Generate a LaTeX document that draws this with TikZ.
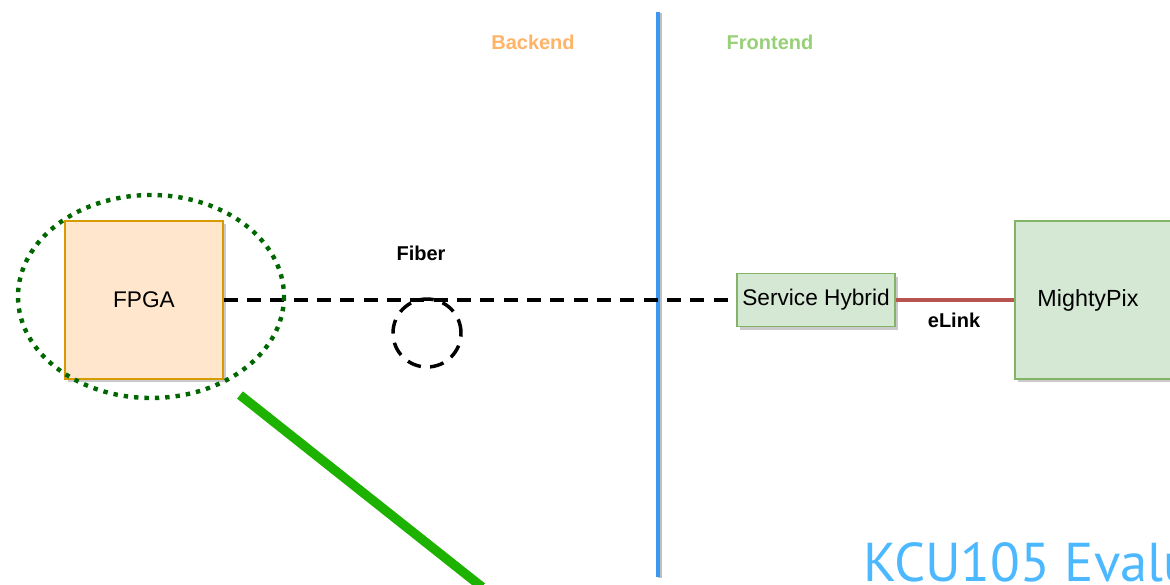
\documentclass[tikz,border=0pt]{standalone}
\usepackage{fontspec}
\setmainfont{Liberation Sans}
\newfontfamily\kcufont{PT Sans}
\usetikzlibrary{shadows}
\definecolor{fpgafill}{HTML}{FFE6CC}
\definecolor{fpgadraw}{HTML}{D79B00}
\definecolor{gfill}{HTML}{D5E8D4}
\definecolor{gdraw}{HTML}{82B366}
\definecolor{elink}{HTML}{B85450}
\definecolor{bluel}{HTML}{3D96F0}
\definecolor{backc}{HTML}{FFB366}
\definecolor{frontc}{HTML}{97D077}
\definecolor{ellc}{HTML}{006600}
\definecolor{penc}{HTML}{1DB100}
\definecolor{kcuc}{HTML}{4CB8FF}
\tikzset{
  box/.style={draw, line width=1.2pt, inner sep=0pt, font=\fontsize{17}{20}\selectfont,
    drop shadow={shadow xshift=2.5pt, shadow yshift=-2.5pt, fill=black!35, opacity=0.6}},
  lbl/.style={font=\bfseries\fontsize{15}{18}\selectfont, inner sep=0pt},
  fiberline/.style={line width=2.6pt, dash pattern=on 10.5pt off 7pt},
}
\begin{document}
\begin{tikzpicture}[x=0.75pt,y=-0.75pt]
\useasboundingbox (0,0) rectangle (1170,585);
\clip (0,0) rectangle (1170,585);
% divider
\draw[line width=3.5pt, black!25] (660,13) -- (660,578);
\draw[line width=3pt, bluel] (658,12) -- (658,577);
% labels
\node[lbl, text=backc] (back) at (533,42) {Backend};
\node[lbl, text=frontc] (front) at (770,42) {Frontend};
\node[lbl] (fiber) at (421,253) {Fiber};
% boxes
\node[box, fill=fpgafill, draw=fpgadraw, minimum width=118.5pt, minimum height=118.5pt] (fpga) at (144,300) {FPGA};
\node[box, fill=gfill, draw=gdraw, minimum width=118.5pt, minimum height=39.75pt] (sh) at (816,300) {Service Hybrid};
\node[box, fill=gfill, draw=gdraw, minimum width=118.5pt, minimum height=118.5pt, anchor=west] (mp) at (1014,300) {};
\node[font=\fontsize{17.5}{20}\selectfont] (mpt) at (1088,300) {MightyPix};
% fiber
\draw[fiberline] (fpga.east) -- (sh.west);
\node[circle, draw, fiberline, minimum size=51pt, inner sep=0pt] (loop) at (427,333) {};
% elink
\draw[elink, line width=3.5pt] (sh.east) -- (mp.west);
\node[lbl] (el) at (954,320) {eLink};
% dotted ellipse
\draw[ellc, line width=3.3pt, dash pattern=on 3.3pt off 4.5pt] (151,296.5) ellipse [x radius=133, y radius=101.5];
% pen stroke
\coordinate (p1) at (240,395);
\coordinate (p2) at (482,587);
\draw[penc, line width=7pt] (p1) -- (p2);
% KCU
\node[anchor=base west, inner sep=0pt, text=kcuc, font=\kcufont\fontsize{41}{46}\selectfont] (kcu) at (863,581) {KCU105 Evalu};
\end{tikzpicture}
\end{document}
